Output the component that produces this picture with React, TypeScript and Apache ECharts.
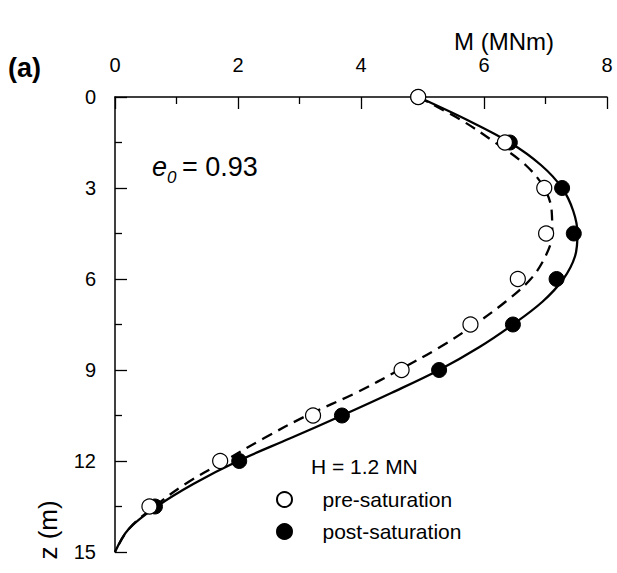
import React, { useEffect, useRef } from "react";
import * as echarts from "echarts";

// Measured points (depth z in m, moment M in MNm)
const pointDepth = [0, 1.5, 3, 4.5, 6, 7.5, 9, 10.5, 12, 13.5];
const preSaturation = [4.93, 6.34, 6.98, 7.01, 6.55, 5.78, 4.66, 3.22, 1.71, 0.56];
const postSaturation = [4.93, 6.42, 7.27, 7.46, 7.18, 6.47, 5.27, 3.69, 2.02, 0.65];

// Curves
const curveDepth = [0, 0.75, 1.5, 2.25, 3, 3.75, 4.5, 5.25, 6, 6.75, 7.5, 8.25, 9, 9.75, 10.5, 11.25, 12, 12.75, 13.5, 14.25, 15];
const solidM = [4.93, 5.72, 6.42, 6.93, 7.27, 7.45, 7.52, 7.48, 7.29, 6.95, 6.47, 5.92, 5.27, 4.5, 3.69, 2.85, 2.0, 1.28, 0.68, 0.22, 0];
const dashedM = [4.93, 5.62, 6.18, 6.68, 6.98, 7.1, 7.11, 7.0, 6.76, 6.35, 5.85, 5.28, 4.62, 3.92, 3.12, 2.42, 1.78, 1.15, 0.64, 0.22, 0];

const xMin = 0, xMax = 8, xInterval = 2;
const yMin = 0, yMax = 15, yInterval = 3;

const FONT = "'Liberation Sans', Arial, Helvetica, sans-serif";

export default function App() {
  const ref = useRef<HTMLDivElement>(null);
  useEffect(() => {
    if (!ref.current) return;
    const chart = echarts.init(ref.current, undefined, { renderer: "svg" });
    const pair = (xs: number[], ys: number[]) => xs.map((x, i) => [x, ys[i]]);
    const axisCommon = {
      type: "value" as const,
      splitLine: { show: false },
      axisLine: { show: true, onZero: false, lineStyle: { color: "#000", width: 1.5 } },
      axisTick: { show: true, inside: true, length: 12, lineStyle: { color: "#000", width: 1.3 } },
      minorTick: { show: true, splitNumber: 2, length: 7, lineStyle: { color: "#000", width: 1.3 } },
      axisLabel: { color: "#000", fontSize: 20, fontFamily: FONT },
    };
    chart.setOption({
      animation: false,
      backgroundColor: "#fff",
      grid: { left: 115, right: 10, top: 97, bottom: 21, containLabel: false },
      xAxis: {
        ...axisCommon,
        position: "top",
        min: xMin,
        max: xMax,
        interval: xInterval,
        axisLabel: { ...axisCommon.axisLabel, margin: 22 },
      },
      yAxis: {
        ...axisCommon,
        inverse: true,
        min: yMin,
        max: yMax,
        interval: yInterval,
        axisLabel: { ...axisCommon.axisLabel, margin: 19 },
      },
      legend: {
        data: ["pre-saturation", "post-saturation"],
        orient: "vertical",
        left: 271,
        top: 484,
        itemWidth: 66,
        itemHeight: 15,
        itemGap: 11,
        symbolKeepAspect: true,
        textStyle: { color: "#000", fontSize: 21, fontFamily: FONT },
      },
      graphic: [
        { type: "text", x: 8, y: 68, style: { text: "(a)", font: `bold 27px ${FONT}`, fill: "#000", align: "left", verticalAlign: "middle" } },
        { type: "text", x: 504, y: 41, style: { text: "M (MNm)", font: `24px ${FONT}`, fill: "#000", align: "center", verticalAlign: "middle" } },
        { type: "text", x: 48, y: 530, rotation: Math.PI / 2, style: { text: "z (m)", font: `26px ${FONT}`, fill: "#000", align: "center", verticalAlign: "middle" } },
        { type: "text", x: 152, y: 167, style: { text: "e", font: `italic 27px ${FONT}`, fill: "#000", align: "left", verticalAlign: "middle" } },
        { type: "text", x: 167, y: 177, style: { text: "0", font: `italic 17px ${FONT}`, fill: "#000", align: "left", verticalAlign: "middle" } },
        { type: "text", x: 182, y: 167, style: { text: "= 0.93", font: `27px ${FONT}`, fill: "#000", align: "left", verticalAlign: "middle" } },
        { type: "text", x: 311, y: 466, style: { text: "H = 1.2 MN", font: `21px ${FONT}`, fill: "#000", align: "left", verticalAlign: "middle" } },
      ],
      series: [
        {
          name: "solid",
          type: "line",
          data: pair(solidM, curveDepth),
          smooth: 0.35,
          showSymbol: false,
          lineStyle: { color: "#000", width: 2.3 },
          z: 2,
        },
        {
          name: "dashed",
          type: "line",
          data: pair(dashedM, curveDepth),
          smooth: 0.35,
          showSymbol: false,
          lineStyle: { color: "#000", width: 2.3, type: [11, 7] },
          z: 2,
        },
        {
          name: "post-saturation",
          type: "scatter",
          data: pair(postSaturation, pointDepth),
          symbol: "circle",
          symbolSize: 15,
          itemStyle: { color: "#000", borderColor: "#000", borderWidth: 1, opacity: 1 },
          z: 3,
        },
        {
          name: "pre-saturation",
          type: "scatter",
          data: pair(preSaturation, pointDepth),
          symbol: "circle",
          symbolSize: 15,
          itemStyle: { color: "#fff", borderColor: "#000", borderWidth: 1.2, opacity: 1 },
          z: 4,
        },
      ],
    });
    return () => chart.dispose();
  }, []);
  return <div ref={ref} style={{ position: "fixed", left: 0, top: 0, width: 617, height: 573 }} />;
}
